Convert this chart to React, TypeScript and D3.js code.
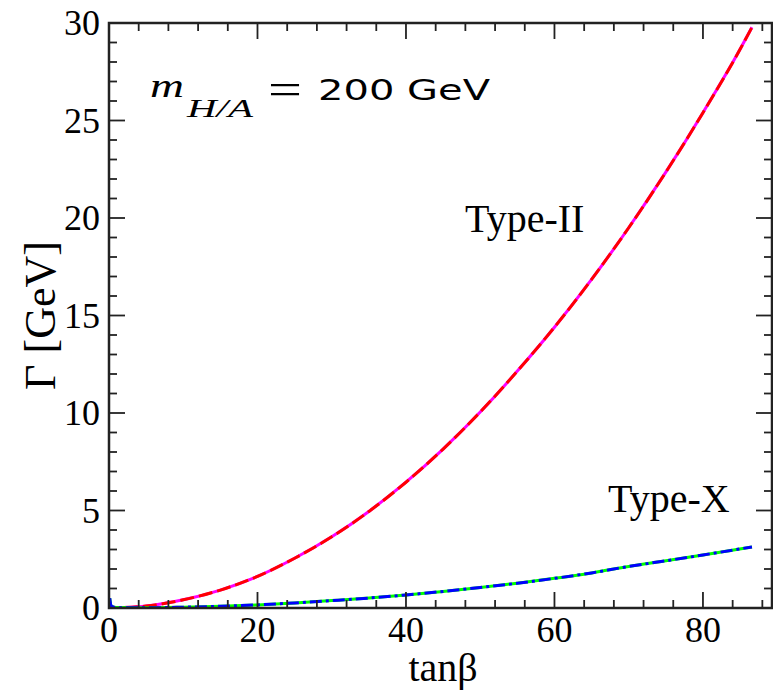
import React from "react";
import * as d3 from "d3";

const tanbII = [2, 5, 10, 15, 20, 25, 30, 35, 40, 45, 50, 55, 60, 65, 70, 75, 80, 85, 86.6];
const gammaII = [0.02, 0.1, 0.42, 0.92, 1.62, 2.55, 3.65, 4.95, 6.45, 8.15, 10.05, 12.15, 14.4, 16.85, 19.5, 22.35, 25.4, 28.65, 29.78];

const tanbX = [0.1, 0.3, 1, 5, 10, 15, 20, 25, 30, 35, 40, 45, 50, 55, 60, 65, 70, 75, 80, 86.6];
const gammaX = [0.5, 0.1, 0.02, 0.01, 0.04, 0.09, 0.16, 0.26, 0.38, 0.51, 0.67, 0.85, 1.05, 1.27, 1.52, 1.8, 2.13, 2.42, 2.72, 3.13];

const xMajorTicks = [0, 20, 40, 60, 80];
const yMajorTicks = [0, 5, 10, 15, 20, 25, 30];

const W = 773;
const H = 690;
const L = 109;
const R = 772;
const T = 23;
const B = 608;

export default function App() {
  const x = d3.scaleLinear().domain([0, 89.3]).range([L, R]);
  const y = d3.scaleLinear().domain([0, 30]).range([B, T]);

  const xMinor = d3.range(0, 89.3, 4).filter((v) => v % 20 !== 0);
  const yMinor = d3.range(0, 30, 1).filter((v) => v % 5 !== 0);

  const line = d3
    .line<[number, number]>()
    .x((d) => x(d[0]))
    .y((d) => y(d[1]))
    .curve(d3.curveMonotoneX);

  const dII = line(tanbII.map((t, i) => [t, gammaII[i]]) as [number, number][]) || "";
  const dX = line(tanbX.map((t, i) => [t, gammaX[i]]) as [number, number][]) || "";

  const serif = "'Liberation Serif', 'Times New Roman', serif";
  const sans = "'DejaVu Sans', Verdana, sans-serif";
  const tickColor = "#222";

  return (
    <svg width={W} height={H} style={{ position: "absolute", left: 0, top: 0, background: "#fff" }}>
      <defs>
        <clipPath id="plotclip">
          <rect x={L} y={T} width={R - L} height={B - T} />
        </clipPath>
      </defs>
      <rect x={0} y={0} width={W} height={H} fill="#fff" />

      {/* curves */}
      <g clipPath="url(#plotclip)" fill="none" strokeWidth={3}>
        <path d={dII} stroke="#ff00ff" />
        <path d={dII} stroke="#ff0000" strokeDasharray="14,5" />
        <path d={dX} stroke="#00ff00" />
        <path d={dX} stroke="#0000ff" strokeDasharray="12,4,3,4" />
      </g>

      {/* ticks */}
      <g stroke={tickColor} strokeWidth={1.8}>
        {xMajorTicks.map((v) => (
          <g key={"xm" + v}>
            <line x1={x(v)} x2={x(v)} y1={B} y2={B - 16} />
            <line x1={x(v)} x2={x(v)} y1={T} y2={T + 16} />
          </g>
        ))}
        {xMinor.map((v) => (
          <g key={"xn" + v}>
            <line x1={x(v)} x2={x(v)} y1={B} y2={B - 8} />
            <line x1={x(v)} x2={x(v)} y1={T} y2={T + 8} />
          </g>
        ))}
        {yMajorTicks.map((v) => (
          <g key={"ym" + v}>
            <line x1={L} x2={L + 16} y1={y(v)} y2={y(v)} />
            <line x1={R} x2={R - 16} y1={y(v)} y2={y(v)} />
          </g>
        ))}
        {yMinor.map((v) => (
          <g key={"yn" + v}>
            <line x1={L} x2={L + 8} y1={y(v)} y2={y(v)} />
            <line x1={R} x2={R - 8} y1={y(v)} y2={y(v)} />
          </g>
        ))}
      </g>

      {/* frame */}
      <rect x={L} y={T} width={R - L} height={B - T} fill="none" stroke="#222" strokeWidth={2.5} />

      {/* tick labels */}
      <g fontFamily={serif} fontSize={36} fill="#000">
        {xMajorTicks.map((v) => (
          <text key={"xl" + v} x={x(v)} y={642} textAnchor="middle">
            {v}
          </text>
        ))}
        {yMajorTicks.map((v) => (
          <text key={"yl" + v} x={100} y={y(v) + 12} textAnchor="end">
            {v}
          </text>
        ))}
      </g>

      {/* axis titles */}
      <text x={443} y={681} fontFamily={serif} fontSize={40} textAnchor="middle" fill="#000">
        tanβ
      </text>
      <text
        transform={`translate(55, ${(T + B) / 2}) rotate(-90)`}
        fontFamily={serif}
        fontSize={44}
        textAnchor="middle"
        fill="#000"
      >
        Γ [GeV]
      </text>

      {/* annotation */}
      <text x={150} y={97} fontFamily={serif} fontStyle="italic" fontSize={34} fill="#000" textLength={34} lengthAdjust="spacingAndGlyphs">
        m
      </text>
      <text x={187} y={117} fontFamily={serif} fontStyle="italic" fontSize={26} fill="#000" textLength={66} lengthAdjust="spacingAndGlyphs">
        H/A
      </text>
      <text x={268} y={104} fontFamily={serif} fontSize={44} fill="#000" textLength={34} lengthAdjust="spacingAndGlyphs">
        =
      </text>
      <text x={318} y={100} fontFamily={sans} fontSize={29} fill="#000" textLength={172} lengthAdjust="spacingAndGlyphs">
        200 GeV
      </text>

      <text x={465} y={232} fontFamily={serif} fontSize={40} fill="#000">
        Type-II
      </text>
      <text x={608} y={512} fontFamily={serif} fontSize={40} fill="#000">
        Type-X
      </text>
    </svg>
  );
}
